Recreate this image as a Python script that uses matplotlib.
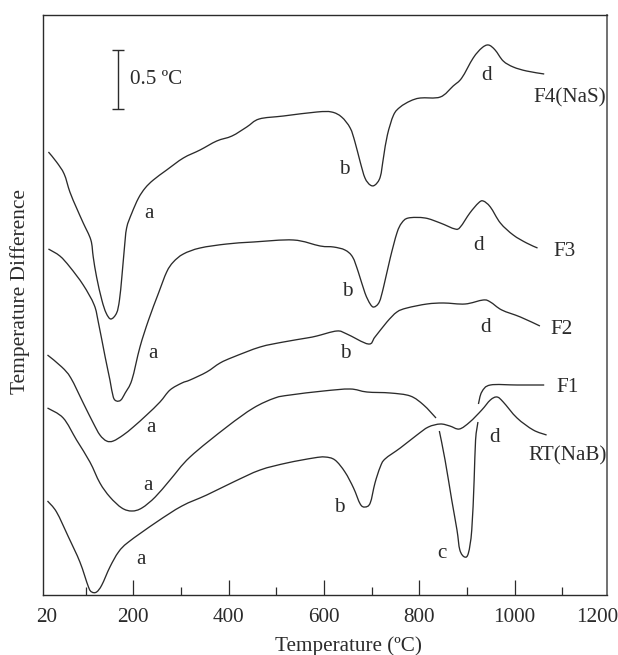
import matplotlib
matplotlib.use('Agg')
import matplotlib.pyplot as plt
from matplotlib.patches import PathPatch
from matplotlib.path import Path

plt.rcParams['font.family'] = ['Liberation Serif', 'DejaVu Serif']

# DTA curves (temperature in C, signal in arbitrary units)
f4_temp = [22, 39, 55, 67, 81, 95, 111, 116, 123, 134, 143, 153, 165, 171, 176, 181, 186, 197, 211, 225,
           242, 270, 305, 340, 375, 407, 438, 464, 515, 585, 616, 637, 655, 665, 676, 686, 697, 707, 718,
           725, 733, 746, 760, 781, 802, 844, 871, 889, 913, 931, 945, 959, 976, 997, 1025, 1062]
f4_signal = [443, 433, 421, 403, 387, 372, 355, 338, 318, 295, 282, 276, 282, 295, 318, 345, 367, 382, 397, 407,
             415, 425, 437, 445, 454, 459, 468, 476, 479, 483, 483, 478, 467, 453, 433, 417, 410, 410, 418,
             438, 460, 480, 488, 494, 497, 498, 509, 517, 537, 547, 550, 545, 534, 528, 524, 521]

f3_temp = [22, 46, 67, 95, 118, 127, 141, 151, 158, 165, 174, 183, 197, 214, 232, 253, 270, 284, 305, 340,
           396, 452, 536, 592, 620, 644, 660, 672, 686, 697, 705, 716, 725, 739, 753, 763, 777, 812, 844,
           875, 886, 906, 924, 934, 949, 970, 997, 1025, 1048]
f3_signal = [346, 339, 328, 310, 290, 272, 238, 215, 198, 194, 195, 202, 215, 248, 275, 302, 323, 333, 341, 347,
             351, 353, 355, 349, 348, 345, 338, 323, 302, 291, 288, 293, 308, 337, 362, 372, 377, 377, 372,
             366, 368, 382, 392, 394, 388, 372, 360, 352, 347]

f2_temp = [20, 50, 69, 95, 116, 130, 144, 158, 179, 200, 228, 256, 277, 302, 319, 354, 382, 410, 466, 515,
           564, 585, 627, 648, 693, 707, 732, 753, 774, 816, 851, 896, 934, 949, 973, 1012, 1053]
f2_signal = [240, 228, 217, 192, 172, 160, 154, 154, 160, 168, 180, 193, 205, 212, 215, 223, 232, 238, 248, 253,
             257, 259, 264, 261, 251, 258, 273, 283, 287, 291, 292, 291, 295, 293, 285, 278, 269]

# F1 is broken where the sharp c peak of the RT curve runs through it
f1_temp = [20, 53, 81, 109, 130, 151, 176, 197, 218, 246, 277, 319, 396, 452, 497, 529, 599, 655, 690, 739,
           781, 809, 835]
f1_signal = [187, 177, 155, 133, 112, 98, 87, 84, 87, 98, 115, 138, 168, 187, 197, 200, 204, 206, 203, 202,
             199, 190, 177]
f1_end_temp = [924, 931, 949, 1005, 1062]
f1_end_signal = [191, 203, 210, 210, 210]

rt_temp = [20, 39, 64, 88, 106, 113, 123, 134, 151, 169, 190, 249, 302, 354, 410, 466, 522, 578, 602, 623,
           644, 662, 676, 686, 697, 707, 718, 728, 760, 795, 819, 844, 864, 884, 906, 931, 949, 963, 976,
           1005, 1039, 1067]
rt_signal = [94, 83, 58, 33, 8, 3, 3, 10, 28, 43, 53, 73, 89, 100, 113, 125, 132, 137, 138, 135,
             123, 107, 91, 88, 92, 112, 128, 136, 147, 160, 168, 171, 169, 166, 173, 185, 195, 198, 193,
             177, 165, 160]
peak_c_temp = [842, 854, 868, 879, 885, 895, 903, 910, 915, 918, 923]
peak_c_signal = [164, 135, 95, 65, 45, 38, 42, 65, 115, 155, 173]

# Peak letters and curve names
peak_labels = ['a', 'a', 'a', 'a', 'a', 'b', 'b', 'b', 'b', 'c', 'd', 'd', 'd', 'd']
peak_label_temp = [233, 241, 237, 231, 216, 642, 649, 644, 632, 848, 942, 925, 938, 957]
peak_label_signal = [382, 242, 168, 110, 35, 426, 304, 242, 87, 41, 520, 349, 267, 158]

curve_names = ['F4(NaS)', 'F3', 'F2', 'F1', 'RT(NaB)']
curve_name_temp = [1116, 1104, 1098, 1110, 1111]
curve_name_signal = [497, 344, 266, 207, 139]

major_ticks = [200, 400, 600, 800, 1000]
minor_ticks = [100, 300, 500, 700, 900, 1100]

INK = '#2b2b2b'
FONT_SIZE = 15.2


def smooth_path(xs, ys):
    """Draw through the read points with Catmull-Rom style bezier segments."""
    pts = list(zip(xs, ys))
    verts = [pts[0]]
    codes = [Path.MOVETO]
    for i in range(len(pts) - 1):
        p0 = pts[max(i - 1, 0)]
        p1 = pts[i]
        p2 = pts[i + 1]
        p3 = pts[min(i + 2, len(pts) - 1)]
        c1 = (p1[0] + (p2[0] - p0[0]) / 6, p1[1] + (p2[1] - p0[1]) / 6)
        c2 = (p2[0] - (p3[0] - p1[0]) / 6, p2[1] - (p3[1] - p1[1]) / 6)
        verts += [c1, c2, p2]
        codes += [Path.CURVE4, Path.CURVE4, Path.CURVE4]
    return Path(verts, codes)


def main():
    fig = plt.figure(figsize=(6.18, 6.55), dpi=100)
    ax = fig.add_axes([43 / 618, 60 / 655, 564 / 618, 580 / 655])
    ax.set_xlim(10.6, 1193.7)
    ax.set_ylim(0, 580)

    curves = [(f4_temp, f4_signal), (f3_temp, f3_signal), (f2_temp, f2_signal), (f1_temp, f1_signal),
              (f1_end_temp, f1_end_signal), (rt_temp, rt_signal), (peak_c_temp, peak_c_signal)]
    for temp, signal in curves:
        ax.add_patch(PathPatch(smooth_path(temp, signal), fill=False, edgecolor=INK, lw=0.95))

    for label, t, s in zip(peak_labels, peak_label_temp, peak_label_signal):
        ax.text(t, s, label, ha='center', va='center', fontsize=FONT_SIZE, color=INK)
    for label, t, s in zip(curve_names, curve_name_temp, curve_name_signal):
        ax.text(t, s, label, ha='center', va='center', fontsize=FONT_SIZE, color=INK)

    # 0.5 C scale bar
    ax.errorbar([168], [515.5], yerr=[29.5], color=INK, lw=1.0, capsize=4.5, capthick=1.0)
    ax.text(193, 515, '0.5 ºC', ha='left', va='center', fontsize=FONT_SIZE, color=INK)

    ax.set_xticks(major_ticks)
    ax.set_xticks(minor_ticks, minor=True)
    ax.tick_params(axis='x', which='major', direction='in', length=11, width=0.9, color=INK,
                   labelsize=FONT_SIZE, labelcolor=INK, pad=9)
    ax.tick_params(axis='x', which='minor', direction='in', length=6, width=0.9, color=INK)
    ax.set_yticks([])
    for spine in ax.spines.values():
        spine.set_linewidth(1.0)
        spine.set_color(INK)
    ax.spines['right'].set_color('#666666')
    ax.spines['right'].set_linewidth(1.3)

    # The end labels sit off their nominal spots in the original
    for t, label in [(19, '20'), (1173, '1200')]:
        ax.annotate(label, (t, 0), xytext=(0, -9), textcoords='offset points', ha='center', va='top',
                    fontsize=FONT_SIZE, color=INK)

    ax.set_xlabel('Temperature (ºC)', fontsize=FONT_SIZE, color=INK, labelpad=7, x=0.541)
    ax.set_ylabel('Temperature Difference', fontsize=FONT_SIZE + 0.2, color=INK, labelpad=9, y=0.523)

    fig.savefig('out.png', dpi=100)


if __name__ == '__main__':
    main()
